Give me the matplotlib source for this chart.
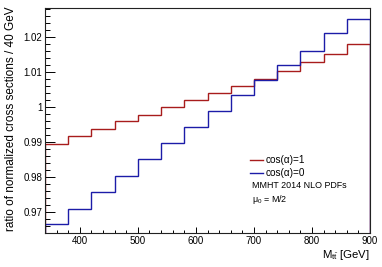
import matplotlib
matplotlib.use("Agg")
import matplotlib.pyplot as plt
from matplotlib.ticker import MultipleLocator, FixedLocator

plt.rcParams['font.family'] = ['Liberation Sans', 'DejaVu Sans']
plt.rcParams['mathtext.fontset'] = 'custom'
plt.rcParams['mathtext.rm'] = 'Liberation Sans'
plt.rcParams['mathtext.it'] = 'Liberation Sans'

bin_edges = [340, 380, 420, 460, 500, 540, 580, 620, 660, 700, 740, 780, 820, 860, 900]
ratio_cos1 = [0.9894, 0.9917, 0.9938, 0.9960, 0.9978, 0.9999, 1.0020,
              1.0040, 1.0060, 1.0081, 1.0103, 1.0129, 1.0151, 1.0181]
ratio_cos0 = [0.9665, 0.9709, 0.9756, 0.9803, 0.9851, 0.9897, 0.9943,
              0.9989, 1.0034, 1.0077, 1.0121, 1.0160, 1.0212, 1.0252]
series_labels = ['cos(\u03b1)=1', 'cos(\u03b1)=0']
x_ticks = [400, 500, 600, 700, 800, 900]
y_ticks = [0.97, 0.98, 0.99, 1.0, 1.01, 1.02]
y_tick_labels = ['0.97', '0.98', '0.99', '1', '1.01', '1.02']

W, H = 382, 267
fig = plt.figure(figsize=(W / 100, H / 100), dpi=100)
ax = fig.add_axes([45 / W, (H - 233) / H, 325 / W, 225 / H])

red = '#a81c1c'
blue = '#1c1ca8'
ax.stairs(ratio_cos1, bin_edges, color=red, lw=1.0)
ax.stairs(ratio_cos0, bin_edges, color=blue, lw=1.0)

ax.set_xlim(340, 900)
ax.set_ylim(0.9640, 1.0283)

ax.xaxis.set_major_locator(FixedLocator(x_ticks))
ax.xaxis.set_minor_locator(MultipleLocator(20))
ax.yaxis.set_major_locator(FixedLocator(y_ticks))
ax.set_yticklabels(y_tick_labels)
ax.yaxis.set_minor_locator(MultipleLocator(0.002))

ax.tick_params(axis='both', which='both', direction='in', labelsize=7, colors='black',
               width=0.7, top=False, right=False)
ax.tick_params(axis='y', which='major', length=7, pad=2)
ax.tick_params(axis='y', which='minor', length=3.5)
ax.tick_params(axis='x', which='major', length=4.5, pad=2.5)
ax.tick_params(axis='x', which='minor', length=2.3)

for s in ax.spines.values():
    s.set_linewidth(0.8)
    s.set_color('#222222')

fig.text(11 / W, 1 - 6 / H, 'ratio of normalized cross sections / 40 GeV', rotation=90,
         ha='center', va='top', fontsize=8.5)
fig.text(370 / W, 1 - 248 / H, r'M$_{\mathrm{t\bar{t}}}$ [GeV]', ha='right', va='top', fontsize=8.2)

def px(x, y):
    return x / W, 1 - y / H

for lab, c, yy in [(series_labels[0], red, 160), (series_labels[1], blue, 173)]:
    x0, y0 = px(250, yy)
    x1, _ = px(263, yy)
    fig.add_artist(plt.Line2D([x0, x1], [y0, y0], color=c, lw=1.0, transform=fig.transFigure))
    fig.text(266 / W, y0, lab, ha='left', va='center', fontsize=7.2)

fig.text(252 / W, 1 - 186 / H, 'MMHT 2014 NLO PDFs', ha='left', va='center', fontsize=6.4)
fig.text(252 / W, 1 - 199 / H, r'$\mathrm{\mu_{0}}$ = M/2', ha='left', va='center', fontsize=6.4)

fig.savefig('out.png', dpi=100)
